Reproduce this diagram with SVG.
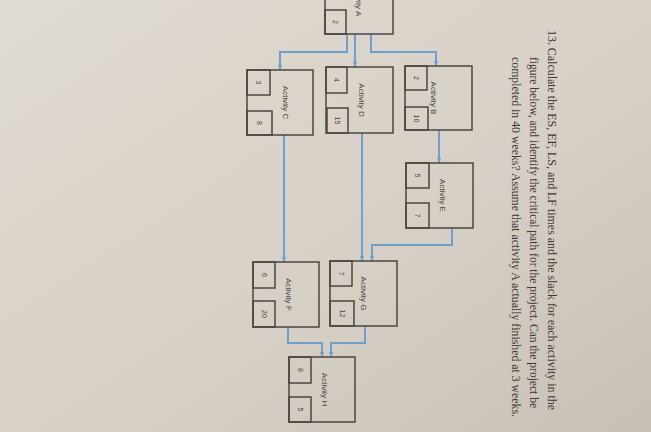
<svg xmlns="http://www.w3.org/2000/svg" width="651" height="432" viewBox="0 0 651 432">
<defs>
<linearGradient id="bg" x1="0" y1="0" x2="1" y2="1">
<stop offset="0" stop-color="#e0dbd3"/>
<stop offset="0.6" stop-color="#d6cfc5"/>
<stop offset="1" stop-color="#c8c0b5"/>
</linearGradient>
<marker id="ah" markerWidth="6" markerHeight="6" refX="5" refY="3" orient="auto" markerUnits="userSpaceOnUse">
<path d="M0,0.8 L5,3 L0,5.2 Z" fill="#6f9fcc"/>
</marker>
<style>
.box{fill:none;stroke:#4b4541;stroke-width:1.5}
.conn{fill:none;stroke:#6f9fcc;stroke-width:2;marker-end:url(#ah)}
.lbl{font-family:"Liberation Sans",Arial,sans-serif;font-size:8px;fill:#4b4541;text-anchor:middle}
.num{font-family:"Liberation Sans",Arial,sans-serif;font-size:7px;fill:#4b4541;text-anchor:middle}
.q{font-family:"Liberation Serif","Times New Roman",serif;font-size:13px;fill:#3e3836}
</style>
</defs>
<rect width="651" height="432" fill="url(#bg)"/>

<g id="connectors">
<path class="conn" d="M347,34 V52 H280 V70"/>
<path class="conn" d="M355,34 V67"/>
<path class="conn" d="M371,34 V52 H436 V66"/>
<path class="conn" d="M439,130 V163"/>
<path class="conn" d="M284,135 V262"/>
<path class="conn" d="M362,133 V261"/>
<path class="conn" d="M452,228 V245 H372 V261"/>
<path class="conn" d="M288,327 V343 H322 V357"/>
<path class="conn" d="M365,326 V343 H331 V357"/>
</g>

<g id="nodeA">
<rect class="box" x="325" y="-33" width="68" height="67"/>
<rect class="box" x="325" y="10" width="21" height="24"/>
<text class="num" transform="translate(333,22) rotate(90)">2</text>
<text class="lbl" transform="translate(356,0) rotate(90)">Activity A</text>
</g>

<g id="nodeB">
<rect class="box" x="405" y="66" width="67" height="64"/>
<rect class="box" x="405" y="66" width="22" height="24"/>
<rect class="box" x="405" y="107" width="23" height="23"/>
<text class="num" transform="translate(414,78) rotate(90)">2</text>
<text class="num" transform="translate(414,118.5) rotate(90)">10</text>
<text class="lbl" transform="translate(431,98) rotate(90)">Activity B</text>
</g>

<g id="nodeC">
<rect class="box" x="247" y="70" width="66" height="65"/>
<rect class="box" x="247" y="70" width="23" height="25"/>
<rect class="box" x="247" y="111" width="25" height="24"/>
<text class="num" transform="translate(256,82.5) rotate(90)">3</text>
<text class="num" transform="translate(257,123) rotate(90)">8</text>
<text class="lbl" transform="translate(283,102.5) rotate(90)">Activity C</text>
</g>

<g id="nodeD">
<rect class="box" x="326" y="67" width="67" height="66"/>
<rect class="box" x="326" y="67" width="21" height="26"/>
<rect class="box" x="327" y="108" width="21" height="25"/>
<text class="num" transform="translate(334,80) rotate(90)">4</text>
<text class="num" transform="translate(335,120.5) rotate(90)">15</text>
<text class="lbl" transform="translate(359,100) rotate(90)">Activity D</text>
</g>

<g id="nodeE">
<rect class="box" x="406" y="163" width="67" height="65"/>
<rect class="box" x="406" y="163" width="23" height="25"/>
<rect class="box" x="406" y="203" width="23" height="25"/>
<text class="num" transform="translate(415,175.5) rotate(90)">5</text>
<text class="num" transform="translate(415,215.5) rotate(90)">7</text>
<text class="lbl" transform="translate(440,195.5) rotate(90)">Activity E</text>
</g>

<g id="nodeF">
<rect class="box" x="253" y="262" width="66" height="65"/>
<rect class="box" x="253" y="262" width="22" height="26"/>
<rect class="box" x="253" y="301" width="22" height="26"/>
<text class="num" transform="translate(262,275) rotate(90)">6</text>
<text class="num" transform="translate(262,314) rotate(90)">20</text>
<text class="lbl" transform="translate(286,294.5) rotate(90)">Activity F</text>
</g>

<g id="nodeG">
<rect class="box" x="330" y="261" width="67" height="65"/>
<rect class="box" x="330" y="261" width="22" height="25"/>
<rect class="box" x="330" y="301" width="24" height="25"/>
<text class="num" transform="translate(339,273.5) rotate(90)">7</text>
<text class="num" transform="translate(340,313.5) rotate(90)">12</text>
<text class="lbl" transform="translate(361,293.5) rotate(90)">Activity G</text>
</g>

<g id="nodeH">
<rect class="box" x="289" y="357" width="66" height="65"/>
<rect class="box" x="289" y="357" width="22" height="26"/>
<rect class="box" x="289" y="397" width="22" height="25"/>
<text class="num" transform="translate(298,370) rotate(90)">8</text>
<text class="num" transform="translate(298,409.5) rotate(90)">5</text>
<text class="lbl" transform="translate(322,389.5) rotate(90)">Activity H</text>
</g>

<g id="question">
<text class="q" transform="translate(548,30) rotate(90)" textLength="380" lengthAdjust="spacingAndGlyphs">13. Calculate the ES, EF, LS, and LF times and the slack for each activity in the</text>
<text class="q" transform="translate(530,57) rotate(90)" textLength="351" lengthAdjust="spacingAndGlyphs">figure below, and identify the critical path for the project. Can the project be</text>
<text class="q" transform="translate(512,57) rotate(90)" textLength="360" lengthAdjust="spacingAndGlyphs">completed in 40 weeks? Assume that activity A actually finished at 3 weeks.</text>
</g>
</svg>
